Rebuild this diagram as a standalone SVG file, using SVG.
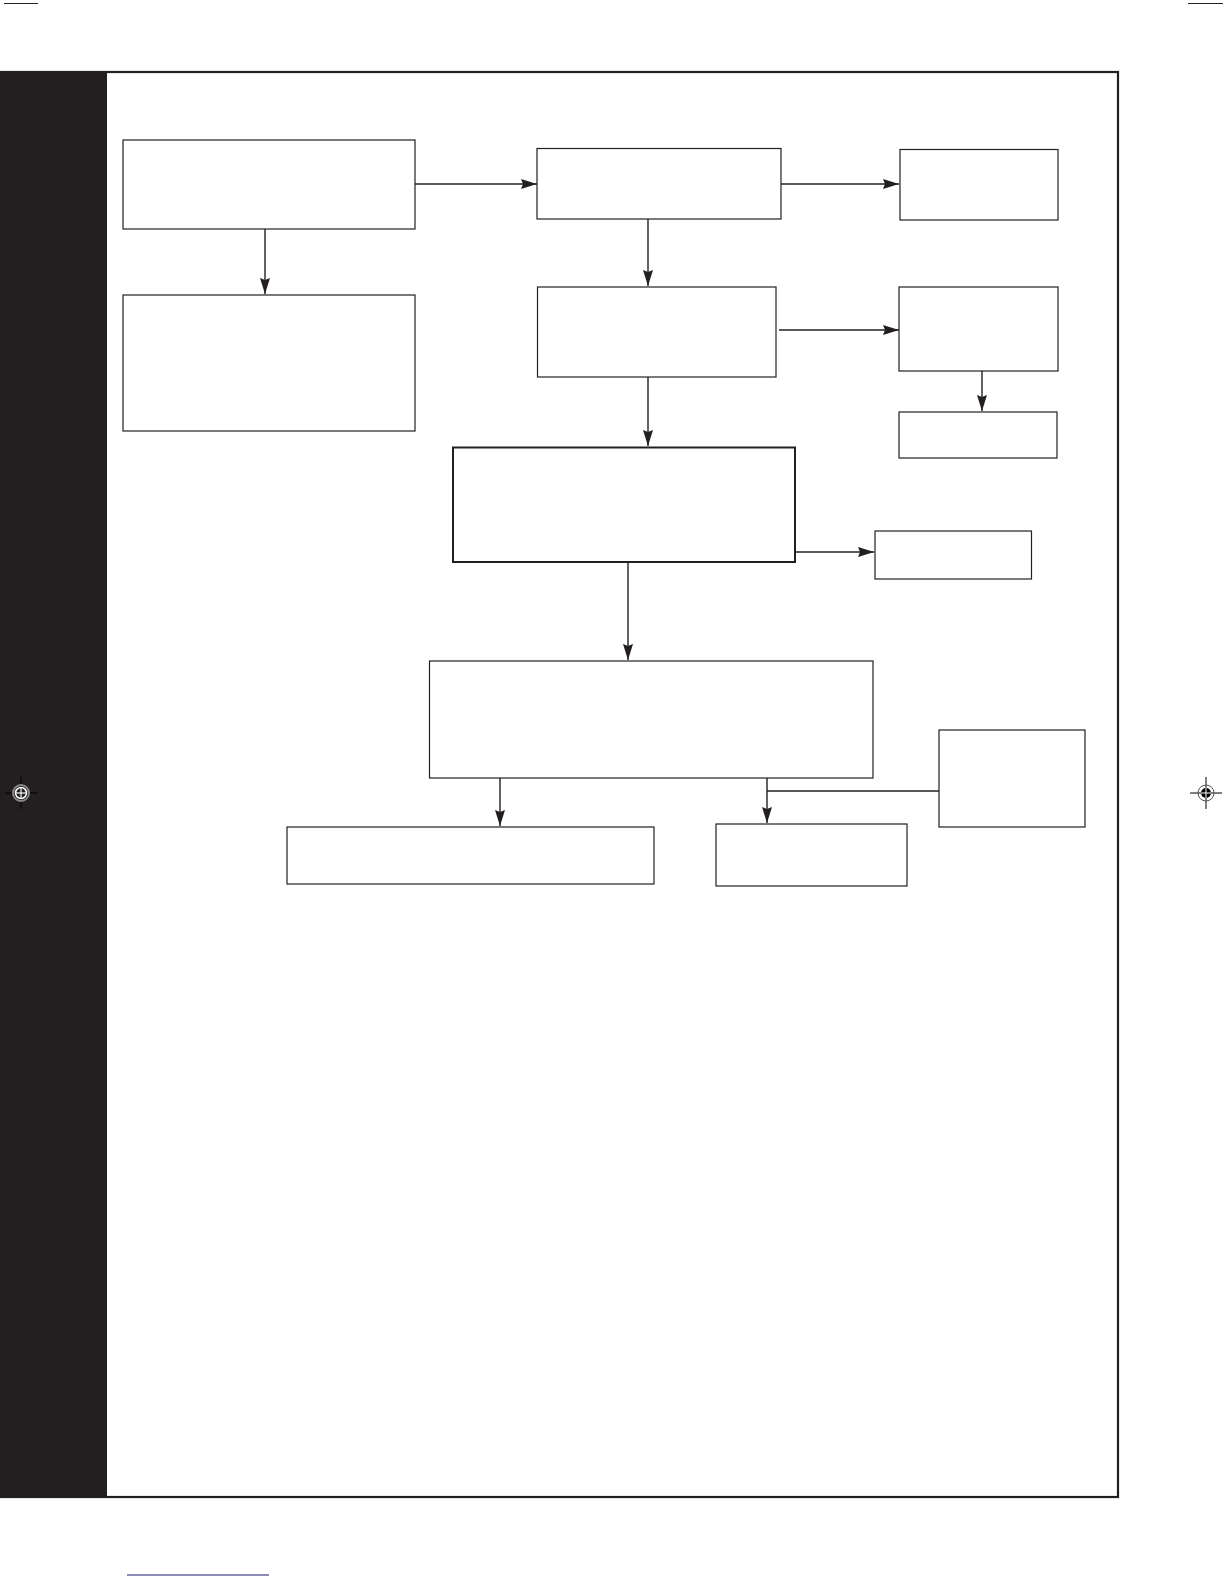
<svg xmlns="http://www.w3.org/2000/svg" width="1224" height="1584" viewBox="0 0 1224 1584">
<style>
.box{fill:#fff;stroke:#231f20;stroke-width:1.2}
.thick{stroke-width:2}
.con{stroke:#231f20;stroke-width:1.4;fill:none}
</style>
<defs>
<marker id="ah" markerWidth="16" markerHeight="10" refX="16" refY="5" orient="auto" markerUnits="userSpaceOnUse">
<path d="M0,0 L16,5 L0,10 L2,5 Z" fill="#231f20"/>
</marker>
</defs>
<rect width="1224" height="1584" fill="#fff"/>
<g id="cropmarks" stroke="#231f20" stroke-width="1.2">
<line x1="4" y1="3.5" x2="38" y2="3.5"/>
<line x1="1188" y1="3.5" x2="1223" y2="3.5"/>
</g>
<g id="frame">
<rect x="1" y="72" width="1117" height="1425" fill="#fff" stroke="#231f20" stroke-width="2.2"/>
<rect x="1" y="72" width="106" height="1425" fill="#231f20"/>
</g>
<g id="regmarks">
<g transform="translate(21,793)">
<line x1="-16" y1="0" x2="16" y2="0" stroke="#000" stroke-width="1"/>
<line x1="0" y1="-16" x2="0" y2="16" stroke="#000" stroke-width="1"/>
<circle r="8" fill="none" stroke="#888" stroke-width="2"/>
<circle r="5.5" fill="none" stroke="#fff" stroke-width="1.5"/>
<line x1="-5" y1="0" x2="5" y2="0" stroke="#fff" stroke-width="1.2"/>
<line x1="0" y1="-5" x2="0" y2="5" stroke="#fff" stroke-width="1.2"/>
</g>
<g transform="translate(1206,793)">
<line x1="-16" y1="0" x2="16" y2="0" stroke="#000" stroke-width="1"/>
<line x1="0" y1="-16" x2="0" y2="16" stroke="#000" stroke-width="1"/>
<circle r="8" fill="none" stroke="#555" stroke-width="1"/>
<circle r="5" fill="#000"/>
<line x1="-5" y1="0" x2="5" y2="0" stroke="#fff" stroke-width="1"/>
<line x1="0" y1="-5" x2="0" y2="5" stroke="#fff" stroke-width="1"/>
</g>
</g>
<g id="connectors">
<line class="con" x1="415" y1="184" x2="537" y2="184" marker-end="url(#ah)"/>
<line class="con" x1="781" y1="184" x2="899" y2="184" marker-end="url(#ah)"/>
<line class="con" x1="265" y1="229" x2="265" y2="294" marker-end="url(#ah)"/>
<line class="con" x1="648" y1="219" x2="648" y2="286" marker-end="url(#ah)"/>
<line class="con" x1="779" y1="330" x2="899" y2="330" marker-end="url(#ah)"/>
<line class="con" x1="982" y1="371" x2="982" y2="411" marker-end="url(#ah)"/>
<line class="con" x1="648" y1="377" x2="648" y2="446" marker-end="url(#ah)"/>
<line class="con" x1="796" y1="552" x2="874" y2="552" marker-end="url(#ah)"/>
<line class="con" x1="628" y1="562" x2="628" y2="660" marker-end="url(#ah)"/>
<line class="con" x1="500" y1="778" x2="500" y2="826" marker-end="url(#ah)"/>
<line class="con" x1="767" y1="778" x2="767" y2="823" marker-end="url(#ah)"/>
<line class="con" x1="767" y1="791" x2="939" y2="791"/>
</g>
<g id="n1"><rect class="box" x="123" y="140" width="292" height="89"/></g>
<g id="n2"><rect class="box" x="537" y="148.5" width="244" height="70.5"/></g>
<g id="n3"><rect class="box" x="900" y="149.5" width="158" height="70.5"/></g>
<g id="n4"><rect class="box" x="123" y="295" width="292" height="136"/></g>
<g id="n5"><rect class="box" x="537.5" y="287" width="238.5" height="90"/></g>
<g id="n6"><rect class="box" x="899" y="287" width="159" height="84"/></g>
<g id="n7"><rect class="box" x="899" y="412" width="158" height="46"/></g>
<g id="n8"><rect class="box thick" x="453" y="447.5" width="342" height="114.5"/></g>
<g id="n9"><rect class="box" x="875" y="531" width="156.5" height="48"/></g>
<g id="n10"><rect class="box" x="429.5" y="661" width="443.5" height="117"/></g>
<g id="n11"><rect class="box" x="939" y="730" width="146" height="97"/></g>
<g id="n12"><rect class="box" x="287" y="827" width="367" height="57"/></g>
<g id="n13"><rect class="box" x="716" y="824" width="191" height="62"/></g>
<line x1="127" y1="1575" x2="269" y2="1575" stroke="#1a1a6e" stroke-width="1.2"/>
</svg>
